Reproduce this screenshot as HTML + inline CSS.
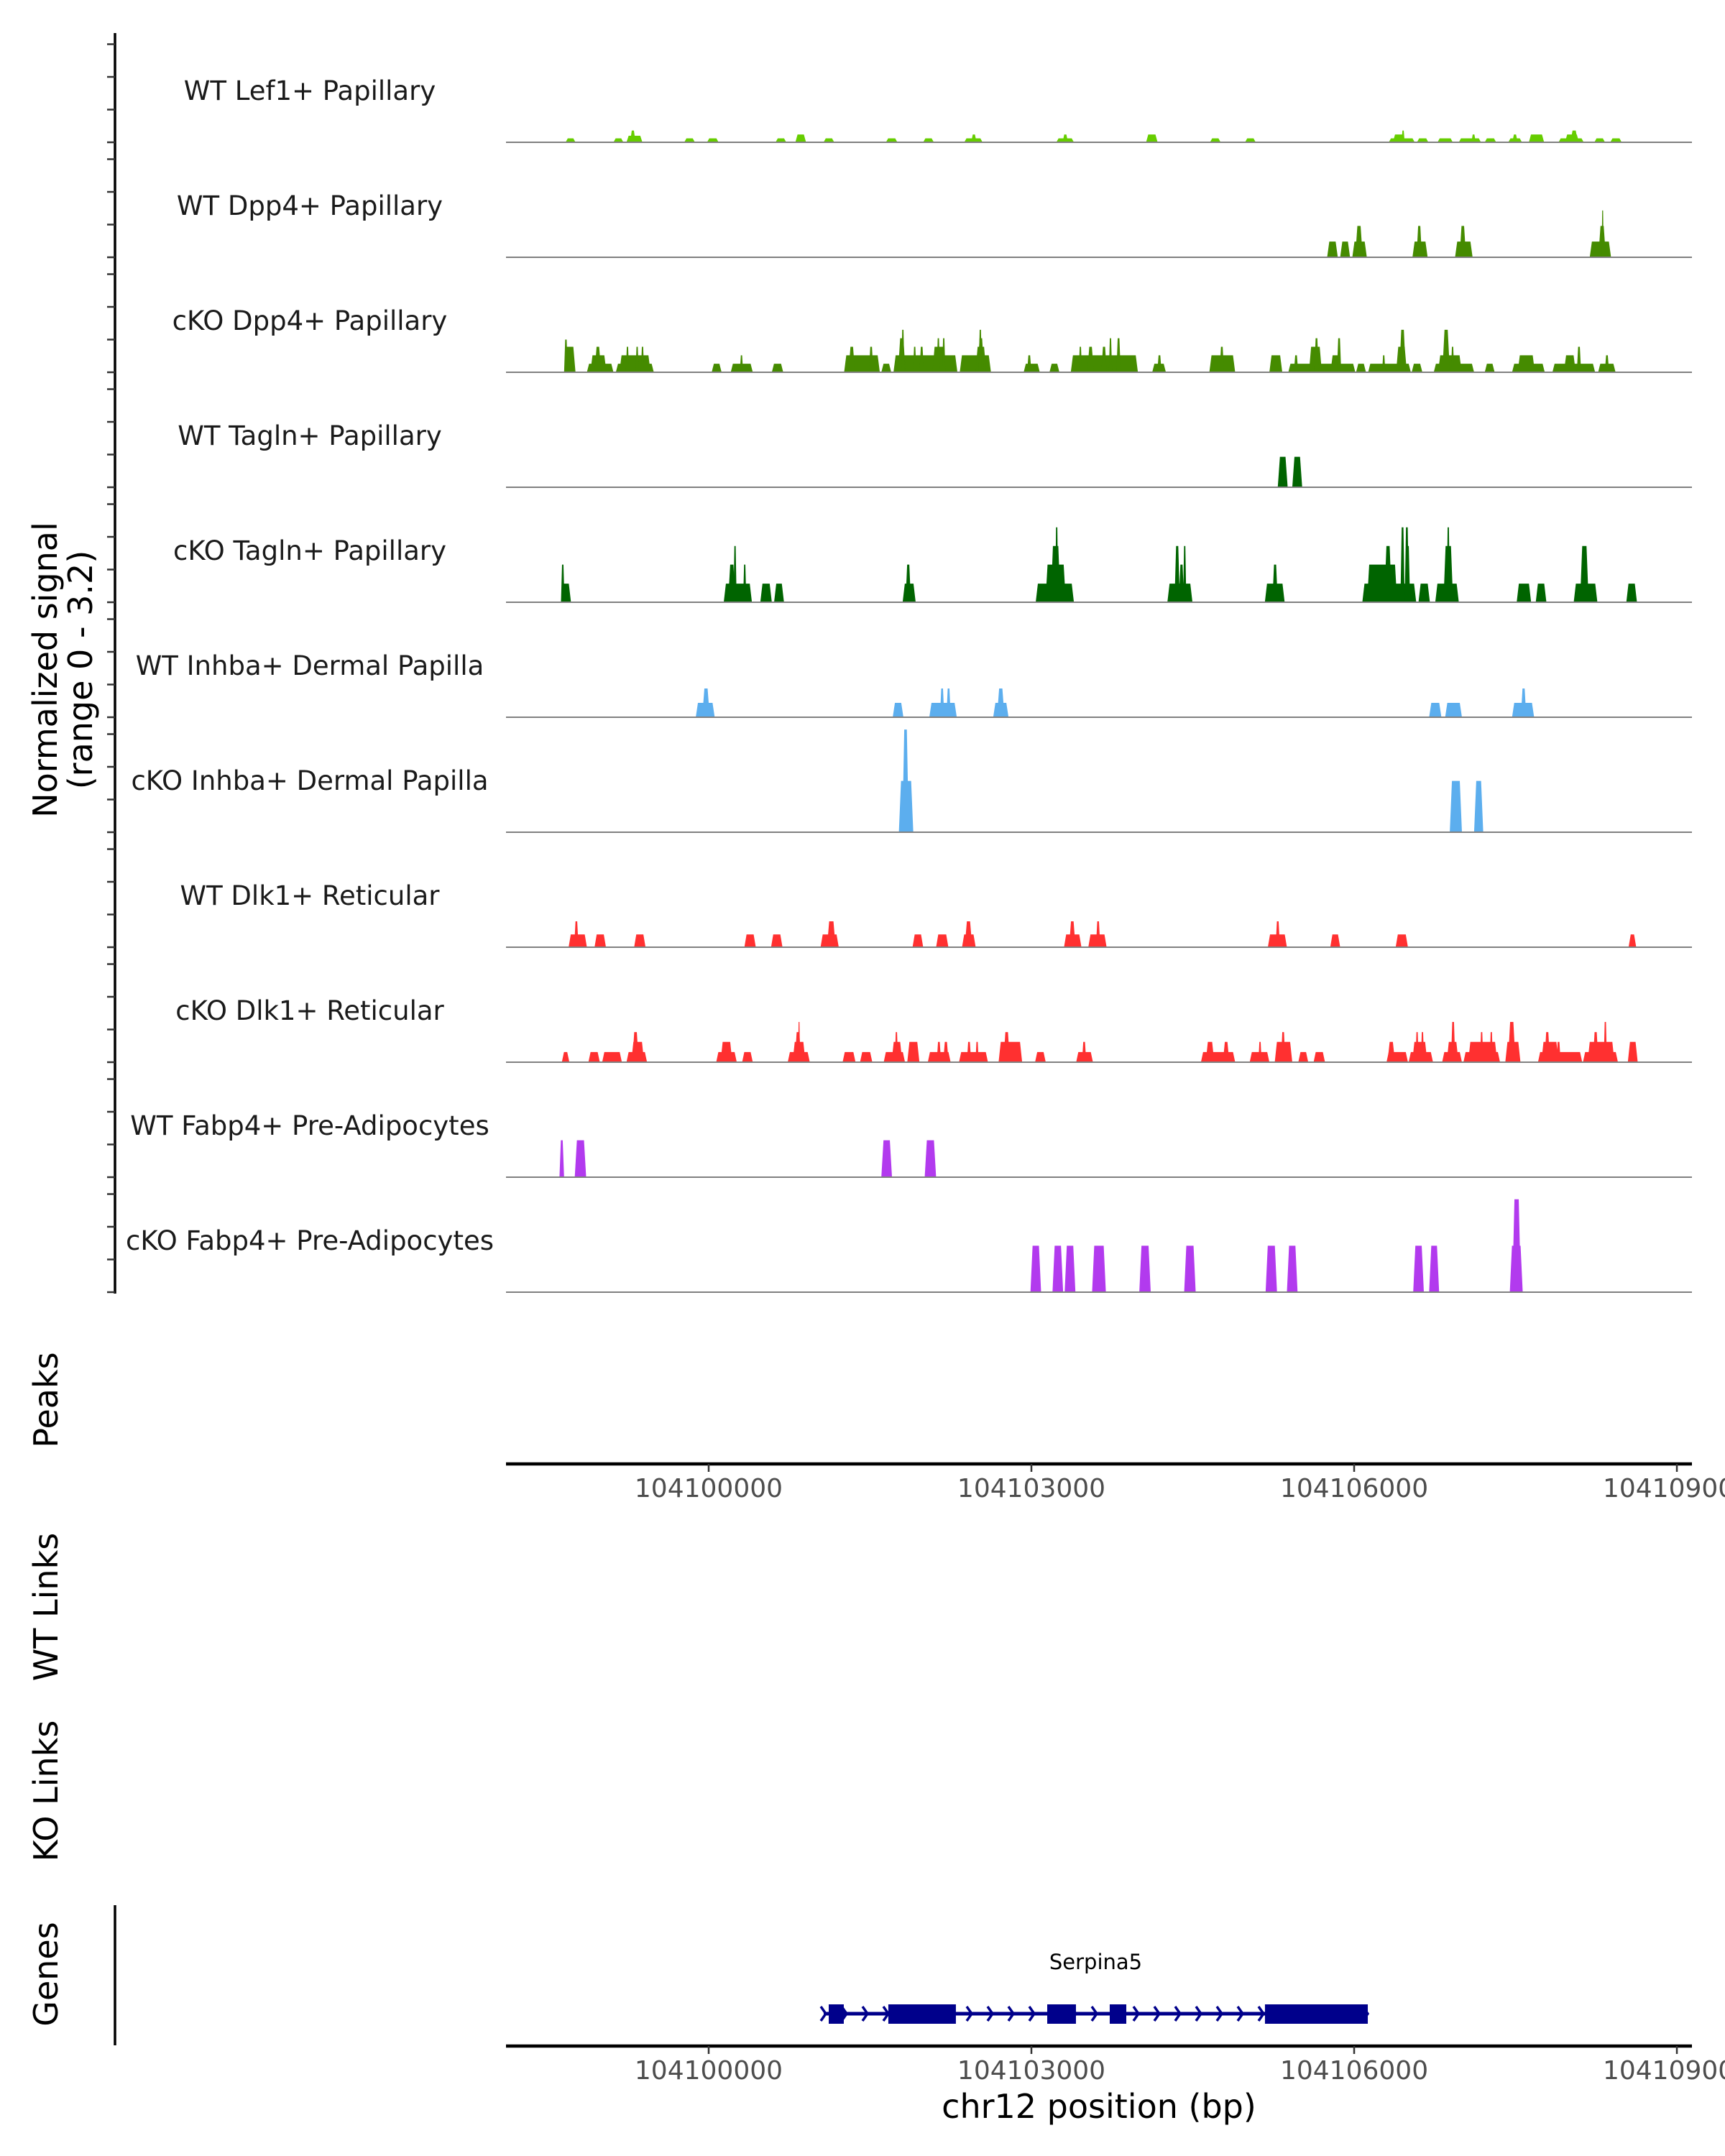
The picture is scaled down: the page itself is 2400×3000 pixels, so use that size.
<!DOCTYPE html>
<html><head><meta charset="utf-8">
<style>
html,body{margin:0;padding:0;background:#fff;width:2400px;height:3000px;overflow:hidden}
svg{display:block;font-family:"DejaVu Sans","Liberation Sans",sans-serif}
</style></head>
<body>
<svg id="chart" width="2400" height="3000" viewBox="0 0 2400 3000" xmlns="http://www.w3.org/2000/svg">
<g id="axes"></g>
<g id="tracks"></g>
<g id="genes"></g>
<text transform="translate(79,932) rotate(-90)" text-anchor="middle" font-size="46" fill="#000">Normalized signal</text>
<text transform="translate(128,932) rotate(-90)" text-anchor="middle" font-size="46" fill="#000">(range 0 - 3.2)</text>
<text transform="translate(80,1948) rotate(-90)" text-anchor="middle" font-size="46" fill="#000">Peaks</text>
<text transform="translate(80,2236) rotate(-90)" text-anchor="middle" font-size="46" fill="#000">WT Links</text>
<text transform="translate(80,2492) rotate(-90)" text-anchor="middle" font-size="46" fill="#000">KO Links</text>
<text transform="translate(80,2747) rotate(-90)" text-anchor="middle" font-size="46" fill="#000">Genes</text>
<text x="1529" y="2947" text-anchor="middle" font-size="46" fill="#000">chr12 position (bp)</text>
</svg>
<script>
const regionStart = 104098000;
const domainStart = 104098116;
const domainEnd = 104109140;
const xTicks = [104100000, 104103000, 104106000, 104109000];
const yMax = 3.2;
const trackNames = ["WT Lef1+ Papillary","WT Dpp4+ Papillary","cKO Dpp4+ Papillary","WT Tagln+ Papillary","cKO Tagln+ Papillary","WT Inhba+ Dermal Papilla","cKO Inhba+ Dermal Papilla","WT Dlk1+ Reticular","cKO Dlk1+ Reticular","WT Fabp4+ Pre-Adipocytes","cKO Fabp4+ Pre-Adipocytes"];
const trackColors = ["#66cd00","#458b00","#458b00","#006400","#006400","#5caeee","#5caeee","#ff3030","#ff3030","#b23aee","#b23aee"];
// [start offset bp, end offset bp, signal]
const lef1WT = [[670,762,.12],[1115,1207,.12],[1236,1384,.2],[1270,1320,.36],[1773,1872,.12],[1985,2092,.12],[2622,2721,.12],[2806,2905,.24],[3068,3167,.12],[3648,3754,.12],[3994,4093,.12],[4376,4546,.12],[4440,4490,.24],[5232,5395,.12],[5290,5340,.24],[6066,6173,.24],[6660,6759,.12],[6986,7085,.12],[8322,8563,.12],[8360,8470,.24],[8440,8470,.36],[8584,8690,.12],[8775,8917,.12],[8973,9179,.12],[9090,9130,.24],[9214,9320,.12],[9433,9560,.12],[9470,9520,.24],[9624,9766,.24],[9900,10134,.12],[9960,10090,.24],[10010,10080,.36],[10233,10332,.12],[10381,10487,.12]];
const dpp4WT = [[7749,7848,.48],[7870,7962,.48],[7983,8118,.48],[8010,8080,.96],[8542,8683,.48],[8580,8630,.96],[8938,9101,.48],[8980,9040,.96],[10190,10388,.48],[10270,10340,.96],[10300,10320,1.43]];
const dpp4KO = [[656,762,.78],[656,690,1.0],[868,1115,.26],[900,1050,.52],[940,1000,.78],[1137,1490,.26],[1170,1460,.52],[1230,1260,.78],[1320,1350,.78],[1370,1400,.78],[2028,2120,.26],[2205,2410,.26],[2290,2320,.52],[2587,2693,.26],[3259,3591,.52],[3300,3360,.78],[3490,3530,.78],[3605,3697,.26],[3718,4312,.52],[3760,3830,1.04],[3790,3820,1.3],[3900,3930,.78],[3960,4000,.78],[4080,4200,.78],[4120,4150,1.04],[4170,4200,1.04],[4334,4624,.52],[4480,4580,.78],[4500,4560,1.04],[4510,4540,1.3],[4928,5078,.26],[4960,5000,.52],[5168,5260,.26],[5366,5990,.52],[5440,5470,.78],[5520,5580,.78],[5650,5700,.78],[5720,5750,1.04],[5790,5830,1.04],[6123,6250,.26],[6170,6210,.52],[6654,6894,.52],[6750,6790,.78],[7212,7332,.52],[7388,8011,.26],[7440,7480,.52],[7580,7700,.78],[7630,7670,1.04],[7780,7870,.52],[7840,7880,1.04],[8018,8110,.26],[8130,8527,.26],[8260,8290,.52],[8390,8490,.78],[8420,8480,1.3],[8535,8634,.26],[8740,9115,.26],[8780,9000,.52],[8820,8890,1.3],[8900,8930,.78],[9214,9306,.26],[9468,9772,.26],[9520,9680,.52],[9843,10240,.26],[9950,10060,.52],[10070,10110,.78],[10268,10430,.26],[10330,10370,.52]];
const taglnWT = [[7290,7382,.93],[7425,7517,.93]];
const taglnKO = [[627,720,.57],[627,660,1.15],[2140,2402,.57],[2180,2250,1.15],[2230,2260,1.72],[2320,2350,1.15],[2480,2587,.57],[2608,2700,.57],[3803,3924,.57],[3830,3880,1.15],[5040,5395,.57],[5130,5320,1.15],[5180,5270,1.72],[5220,5250,2.29],[6264,6497,.57],[6330,6380,1.72],[6410,6440,1.72],[6370,6420,1.15],[7170,7354,.57],[7240,7290,1.15],[8076,8577,.57],[8120,8400,1.15],[8280,8350,1.72],[8430,8470,2.29],[8470,8510,2.29],[8480,8520,1.72],[8598,8704,.57],[8754,8973,.57],[8830,8920,1.72],[8860,8890,2.29],[9511,9645,.57],[9688,9787,.57],[10041,10261,.57],[10100,10180,1.72],[10530,10629,.57]];
const inhbaWT = [[1880,2056,.44],[1940,2010,.88],[3711,3810,.44],[4051,4306,.44],[4150,4190,.88],[4210,4250,.88],[4645,4787,.44],[4680,4750,.88],[8697,8811,.44],[8846,9002,.44],[9468,9673,.44],[9550,9600,.88]];
const inhbaKO = [[3768,3902,1.57],[3800,3860,3.14],[8889,9002,1.57],[9115,9200,1.57]];
const dlk1WT = [[698,868,.39],[750,790,.79],[939,1045,.39],[1307,1413,.39],[2332,2438,.39],[2580,2686,.39],[3040,3209,.39],[3100,3180,.79],[3895,3994,.39],[4114,4228,.39],[4355,4482,.39],[4380,4450,.79],[5303,5465,.39],[5350,5410,.79],[5529,5699,.39],[5600,5640,.79],[7198,7375,.39],[7270,7310,.79],[7778,7870,.39],[8386,8500,.39],[10551,10622,.39]];
const dlk1KO = [[635,705,.31],[882,988,.31],[1010,1193,.31],[1236,1427,.31],[1280,1400,.62],[1290,1350,.92],[2070,2261,.31],[2110,2220,.62],[2311,2410,.31],[2735,2940,.31],[2780,2900,.62],[2800,2860,.92],[2830,2850,1.23],[3245,3365,.31],[3407,3521,.31],[3627,3825,.31],[3700,3800,.62],[3730,3760,.92],[3846,3959,.62],[4037,4249,.31],[4120,4160,.62],[4180,4230,.62],[4327,4596,.31],[4400,4440,.62],[4480,4510,.62],[4695,4914,.62],[4740,4800,.92],[5034,5133,.31],[5416,5572,.31],[5470,5510,.62],[6576,6894,.31],[6620,6700,.62],[6780,6840,.62],[7029,7212,.31],[7110,7140,.62],[7262,7425,.62],[7320,7360,.92],[7481,7573,.31],[7623,7729,.31],[8301,8500,.31],[8310,8380,.62],[8507,8733,.31],[8540,8680,.62],[8570,8600,.92],[8620,8650,.92],[8818,9002,.31],[8860,8970,.62],[8900,8940,1.23],[9016,9356,.31],[9060,9330,.62],[9170,9200,.92],[9260,9290,.92],[9405,9546,.62],[9430,9500,1.23],[9709,10120,.31],[9740,9900,.62],[9770,9820,.92],[9880,9920,.62],[10127,10452,.31],[10170,10420,.62],[10220,10270,.92],[10320,10350,1.23],[10544,10636,.62]];
const fabp4WT = [[613,656,1.13],[755,861,1.13],[3605,3704,1.13],[4008,4114,1.13]];
const fabp4KO = [[4991,5090,1.42],[5196,5295,1.42],[5309,5409,1.42],[5564,5692,1.42],[6003,6109,1.42],[6420,6527,1.42],[7177,7283,1.42],[7375,7474,1.42],[8549,8648,1.42],[8697,8790,1.42],[9447,9567,1.42],[9470,9550,2.84]];
const geneName = "Serpina5";
const geneStart = 104101069;
const geneEnd = 104106127;
const exonStarts = [104101116,104101670,104103147,104103728,104105171];
const exonEnds = [104101256,104102298,104103414,104103882,104106127];

const trackData = [lef1WT,dpp4WT,dpp4KO,taglnWT,taglnKO,inhbaWT,inhbaKO,dlk1WT,dlk1KO,fabp4WT,fabp4KO];
const NS = "http://www.w3.org/2000/svg";
const X0 = 704, X1 = 2354;
function xScale(bp){ return X0 + (bp - domainStart) / (domainEnd - domainStart) * (X1 - X0); }
const unitPx = 145.6 / yMax;
function yScale(v, base){ return base - v * unitPx; }
function mk(tag, attrs, parent){ const e = document.createElementNS(NS, tag); for (const k in attrs) e.setAttribute(k, attrs[k]); parent.appendChild(e); return e; }

const axes = document.getElementById('axes');
const tracks = document.getElementById('tracks');
const genes = document.getElementById('genes');

const yl = mk('line', {x1:160,y1:46,x2:160,y2:1800,stroke:'#000','stroke-width':3.5}, axes);



trackNames.forEach((name, k) => {
  const base = 198 + 160 * k;
  const g = mk('g', {}, tracks);
  
  
  for (let t = 0; t < 4; t++) {
    const ty = yScale(t, base);
    const tk = mk('line', {x1:149,y1:ty,x2:160,y2:ty,stroke:'#333','stroke-width':2.5}, axes);
    
    
  }
  const lbl = mk('text', {x:431,y:base - 59,'text-anchor':'middle','font-size':37,fill:'#1a1a1a'}, g);
  lbl.textContent = name;
  
  
  trackData[k].forEach(p => {
    const s = xScale(regionStart + p[0]), e = xScale(regionStart + p[1]);
    const r = Math.min(3, (e - s) * 0.3);
    const top = yScale(p[2], base);
    const poly = mk('polygon', {points: `${s},${base} ${s+r},${top} ${e-r},${top} ${e},${base}`, fill: trackColors[k]}, g);
    
    
  });
  const bl = mk('line', {x1:X0,y1:base,x2:X1,y2:base,stroke:'#808080','stroke-width':2}, g);
  
  
});

[2037, 2847].forEach((ay, i) => {
  const g = mk('g', {}, axes);
  
  
  const l = mk('line', {x1:X0,y1:ay,x2:X1,y2:ay,stroke:'#000','stroke-width':4.5}, g);
  
  
  xTicks.forEach(v => {
    const tx = xScale(v);
    const tk = mk('line', {x1:tx,y1:ay,x2:tx,y2:ay+11,stroke:'#333','stroke-width':2.5}, g);
    
    
    const tl = mk('text', {x:tx,y:ay+46,'text-anchor':'middle','font-size':36,fill:'#4d4d4d'}, g);
    tl.textContent = String(v);
    
    
  });
});

const gl = mk('line', {x1:160,y1:2651,x2:160,y2:2846,stroke:'#000','stroke-width':3.5}, axes);



const gy = 2802;
const intron = mk('line', {x1:xScale(geneStart),y1:gy,x2:xScale(geneEnd),y2:gy,stroke:'#00008b','stroke-width':5}, genes);


for (let cx = xScale(geneStart); cx < xScale(geneEnd); cx += 29) {
  const ch = mk('polyline', {points:`${cx-4},${gy-10} ${cx+3},${gy} ${cx-4},${gy+10}`,fill:'none',stroke:'#00008b','stroke-width':3.5}, genes);
  
  
}
exonStarts.forEach((s, i) => {
  const x1 = xScale(s), x2 = xScale(exonEnds[i]);
  const ex = mk('rect', {x:x1,y:gy-13,width:x2-x1,height:27,fill:'#00008b'}, genes);
  
  
});
const gn = mk('text', {x:(xScale(geneStart)+xScale(geneEnd))/2,y:2740,'text-anchor':'middle','font-size':29,fill:'#000'}, genes);
gn.textContent = geneName;


</script>
</body></html>
